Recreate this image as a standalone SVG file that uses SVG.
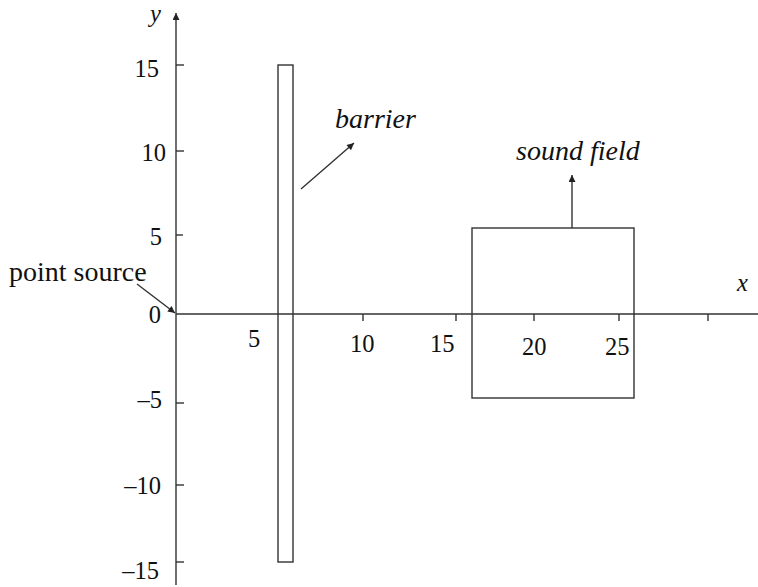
<svg xmlns="http://www.w3.org/2000/svg" width="758" height="587" viewBox="0 0 758 587">
<style>
.ln{stroke:#333;stroke-width:1.4;fill:none}
.box{stroke:#333;stroke-width:1.4;fill:none}
.t{font-family:"Liberation Serif","Times New Roman",serif;font-size:24.5px;fill:#111}
.lbl{font-family:"Liberation Serif","Times New Roman",serif;font-size:28px;fill:#111}
.it{font-style:italic}
.end{text-anchor:end}
</style>
<defs>
<marker id="ah" viewBox="0 0 10 10" refX="10" refY="5" markerWidth="9" markerHeight="7" markerUnits="userSpaceOnUse" orient="auto">
<path d="M0,0 L10,5 L0,10 Z" fill="#222"/>
</marker>
</defs>
<g id="axes">
<line class="ln" x1="176" y1="585" x2="176" y2="13" marker-end="url(#ah)"/>
<line class="ln" x1="176" y1="314" x2="758" y2="314"/>
<g id="yticks">
<line class="ln" x1="176" y1="65" x2="184" y2="65"/>
<line class="ln" x1="176" y1="151" x2="184" y2="151"/>
<line class="ln" x1="176" y1="235" x2="183" y2="235"/>
<line class="ln" x1="176" y1="403" x2="184" y2="403"/>
<line class="ln" x1="176" y1="485" x2="184" y2="485"/>
<line class="ln" x1="176" y1="562" x2="184" y2="562"/>
</g>
<g id="xticks">
<line class="ln" x1="363" y1="314" x2="363" y2="321"/>
<line class="ln" x1="456" y1="314" x2="456" y2="321"/>
<line class="ln" x1="534" y1="314" x2="534" y2="321"/>
<line class="ln" x1="619" y1="314" x2="619" y2="321"/>
<line class="ln" x1="708" y1="314" x2="708" y2="321"/>
</g>
<text class="t it" x="150" y="22">y</text>
<text class="t it" x="737" y="291">x</text>
<text class="t end" x="159" y="77">15</text>
<text class="t end" x="166" y="161">10</text>
<text class="t end" x="162" y="245">5</text>
<text class="t end" x="161" y="323">0</text>
<text class="t end" x="162" y="408">–5</text>
<text class="t end" x="161" y="494">–10</text>
<text class="t end" x="159" y="579">–15</text>
<text class="t" x="248" y="347">5</text>
<text class="t" x="350" y="352">10</text>
<text class="t" x="430" y="352">15</text>
<text class="t" x="522" y="355">20</text>
<text class="t" x="605" y="355">25</text>
</g>
<g id="barrier">
<rect class="box" x="278" y="65" width="15" height="497"/>
</g>
<g id="sound-field">
<rect class="box" x="472" y="228" width="162" height="170"/>
</g>
<g id="labels">
<text class="lbl" x="9" y="281">point source</text>
<text class="lbl it" x="335" y="128">barrier</text>
<text class="lbl it" x="516" y="160">sound field</text>
</g>
<g id="connectors">
<line class="ln" x1="137" y1="284" x2="175" y2="313" marker-end="url(#ah)"/>
<line class="ln" x1="301" y1="189" x2="354" y2="143" marker-end="url(#ah)"/>
<line class="ln" x1="572" y1="228" x2="572" y2="175" marker-end="url(#ah)"/>
</g>
</svg>
